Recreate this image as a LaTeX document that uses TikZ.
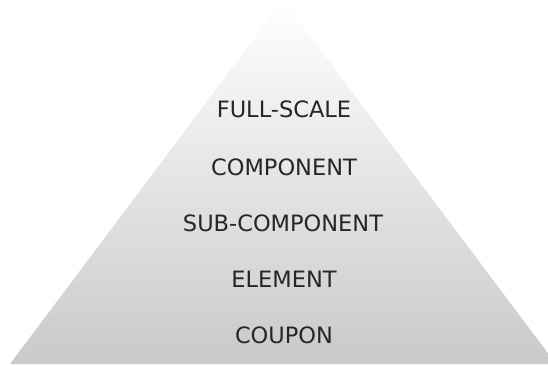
\documentclass[tikz,border=0pt]{standalone}
\usepackage{fontspec}
\setmainfont{DejaVu Sans}
\begin{document}
\begin{tikzpicture}[x=1pt,y=1pt,
  level/.style={text=black!85, font=\fontsize{22.5}{27}\selectfont, inner sep=0pt, anchor=center}]
  \useasboundingbox (0,0) rectangle (548,364);
  % pyramid body with a vertical grey gradient
  \begin{scope}
    \clip (0,0) rectangle (548,364);
    \shade[top color=white, bottom color=black!21]
      (283,364) -- (556,0) -- (10,0) -- cycle;
  \end{scope}
  % tiers, from the top down
  \node[level] (fs)   at (284,255) {FULL-SCALE};
  \node[level] (comp) at (284,197) {COMPONENT};
  \node[level] (sub)  at (283,141) {SUB-COMPONENT};
  \node[level] (el)   at (284,85)  {ELEMENT};
  \node[level] (cp)   at (284,29)  {COUPON};
\end{tikzpicture}
\end{document}
